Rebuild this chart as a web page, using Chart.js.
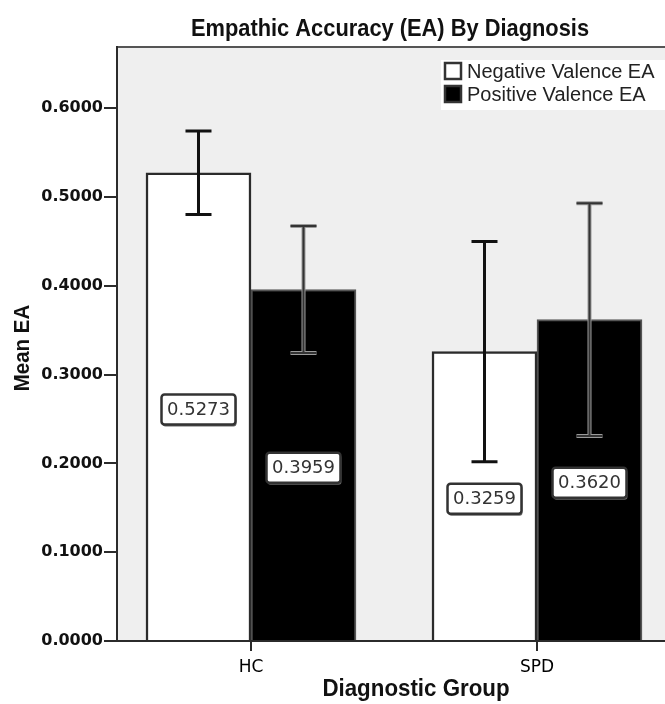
<!DOCTYPE html>
<html>
<head>
<meta charset="utf-8">
<script src="https://cdn.jsdelivr.net/npm/chart.js@4.4.0/dist/chart.umd.min.js"></script>
<style>
  html, body { margin: 0; padding: 0; background: #fff; overflow: hidden; }
  #wrap { width: 690px; height: 704px; }
</style>
</head>
<body>
<div id="wrap"><canvas id="eaChart" width="690" height="704"></canvas></div>
<script>
// Chart values
const groups = ['HC', 'SPD'];
const negativeMean = [0.5273, 0.3259];
const positiveMean = [0.3959, 0.3620];
const negativeErr = [0.047, 0.124];
const positiveErr = [0.0715, 0.131];
const yTicks = [0, 0.1, 0.2, 0.3, 0.4, 0.5, 0.6];

const INK = '#2b2b2b';
const means = [negativeMean, positiveMean];
const errs = [negativeErr, positiveErr];

function narrowText(ctx, txt, x, y, scaleX) {
    ctx.save();
    ctx.translate(x, y);
    ctx.scale(scaleX, 1);
    ctx.fillText(txt, 0, 0);
    ctx.restore();
}

// Plot background, error bars, value boxes, titles and legend
const decorations = {
    id: 'decorations',
    beforeDraw(chart) {
        const { ctx, chartArea: a } = chart;
        ctx.save();
        ctx.fillStyle = '#efefef';
        ctx.fillRect(a.left, a.top, a.right - a.left, a.bottom - a.top);
        ctx.strokeStyle = '#555';
        ctx.lineWidth = 2;
        ctx.beginPath();
        ctx.moveTo(a.left, a.bottom);
        ctx.lineTo(a.left, a.top);
        ctx.lineTo(a.right, a.top);
        ctx.stroke();
        ctx.restore();
    },
    afterDatasetsDraw(chart) {
        const { ctx } = chart;
        const y = chart.scales.y;
        ctx.save();
        chart.data.datasets.forEach((ds, di) => {
            const meta = chart.getDatasetMeta(di);
            meta.data.forEach((bar, i) => {
                const v = means[di][i];
                const top = y.getPixelForValue(v + errs[di][i]);
                const bot = y.getPixelForValue(v - errs[di][i]);
                const x = bar.x;
                const passes = di === 0 ? [['#111', 3]] : [['#9a9a9a', 4], ['#333', 2]];
                passes.forEach(([col, w]) => {
                    ctx.strokeStyle = col;
                    ctx.lineWidth = w;
                    ctx.beginPath();
                    ctx.moveTo(x, top);
                    ctx.lineTo(x, bot);
                    ctx.moveTo(x - 13, top);
                    ctx.lineTo(x + 13, top);
                    ctx.moveTo(x - 13, bot);
                    ctx.lineTo(x + 13, bot);
                    ctx.stroke();
                });
            });
        });

        // value boxes in the middle of each bar
        ctx.font = '18px "DejaVu Sans"';
        ctx.textAlign = 'center';
        ctx.textBaseline = 'middle';
        chart.data.datasets.forEach((ds, di) => {
            const meta = chart.getDatasetMeta(di);
            meta.data.forEach((bar, i) => {
                const txt = means[di][i].toFixed(4);
                const cy = (bar.y + bar.base) / 2 + 3;
                const cx = bar.x;
                const w = ctx.measureText(txt).width + 11;
                const h = 30;
                ctx.fillStyle = '#666';
                ctx.beginPath();
                ctx.roundRect(cx - w / 2 + 1, cy - h / 2 + 2, w, h, 3);
                ctx.fill();
                ctx.fillStyle = '#fff';
                ctx.strokeStyle = '#333';
                ctx.lineWidth = 2.5;
                ctx.beginPath();
                ctx.roundRect(cx - w / 2, cy - h / 2, w, h, 3);
                ctx.fill();
                ctx.stroke();
                ctx.fillStyle = '#333';
                ctx.fillText(txt, cx, cy + 1);
            });
        });
        ctx.restore();
    },
    afterDraw(chart) {
        const { ctx } = chart;
        ctx.save();
        ctx.fillStyle = '#111';
        ctx.textAlign = 'center';
        ctx.textBaseline = 'middle';
        ctx.font = 'bold 24px "Liberation Sans", sans-serif';
        narrowText(ctx, 'Empathic Accuracy (EA) By Diagnosis', 390, 29, 0.91);
        ctx.font = 'bold 24px "Liberation Sans", sans-serif';
        narrowText(ctx, 'Diagnostic Group', 416, 689, 0.93);
        ctx.save();
        ctx.translate(23, 348);
        ctx.rotate(-Math.PI / 2);
        ctx.font = 'bold 22px "Liberation Sans", sans-serif';
        narrowText(ctx, 'Mean EA', 0, 0, 0.93);
        ctx.restore();

        // legend inside the plot
        ctx.fillStyle = '#fff';
        ctx.fillRect(441, 60, 250, 50);
        const items = [['Negative Valence EA', '#fff'], ['Positive Valence EA', '#000']];
        ctx.font = '20px "Liberation Sans", sans-serif';
        ctx.textAlign = 'left';
        items.forEach(([label, fill], i) => {
            const yy = 71 + i * 23;
            ctx.fillStyle = fill;
            ctx.strokeStyle = '#333';
            ctx.lineWidth = 2.5;
            ctx.fillRect(445, yy - 8, 16, 16);
            ctx.strokeRect(445, yy - 8, 16, 16);
            ctx.fillStyle = '#222';
            ctx.fillText(label, 467, yy + 1);
        });
        ctx.restore();
    }
};

new Chart(document.getElementById('eaChart'), {
    type: 'bar',
    data: {
        datasets: [{
            label: 'Negative Valence EA',
            data: negativeMean.map((v, i) => ({ x: i, y: v })),
            backgroundColor: '#fff',
            borderColor: INK,
            borderWidth: 2.5
        }, {
            label: 'Positive Valence EA',
            data: positiveMean.map((v, i) => ({ x: i, y: v })),
            backgroundColor: '#000',
            borderColor: '#555',
            borderWidth: 2
        }]
    },
    options: {
        responsive: false,
        animation: false,
        layout: { padding: { top: 47, right: 15, left: 0, bottom: 0 } },
        datasets: {
            bar: { barThickness: 105 }
        },
        scales: {
            x: {
                type: 'linear',
                offset: false,
                min: -0.4685,
                max: 1.4825,
                afterBuildTicks(scale) { scale.ticks = groups.map((g, i) => ({ value: i })); },
                grid: { offset: false, drawOnChartArea: false, drawTicks: true, tickLength: 10, color: INK, lineWidth: 2 },
                border: { display: true, color: INK, width: 2 },
                ticks: {
                    color: '#000',
                    font: { family: 'DejaVu Sans', size: 17 },
                    padding: 6,
                    callback: v => groups[v]
                },
                afterFit(scale) { scale.height = 63; }
            },
            y: {
                min: 0,
                max: 0.669,
                afterBuildTicks(scale) { scale.ticks = yTicks.map(v => ({ value: v })); },
                grid: { drawOnChartArea: false, drawTicks: true, tickLength: 13, color: INK, lineWidth: 2 },
                border: { display: true, color: INK, width: 2 },
                ticks: {
                    color: '#111',
                    font: { family: 'DejaVu Sans', size: 16, weight: 'bold' },
                    padding: 1,
                    callback: v => Number(v).toFixed(4)
                },
                afterFit(scale) { scale.width = 117; }
            }
        },
        plugins: {
            legend: { display: false },
            title: { display: false },
            tooltip: { enabled: false }
        }
    },
    plugins: [decorations]
});
</script>
</body>
</html>
